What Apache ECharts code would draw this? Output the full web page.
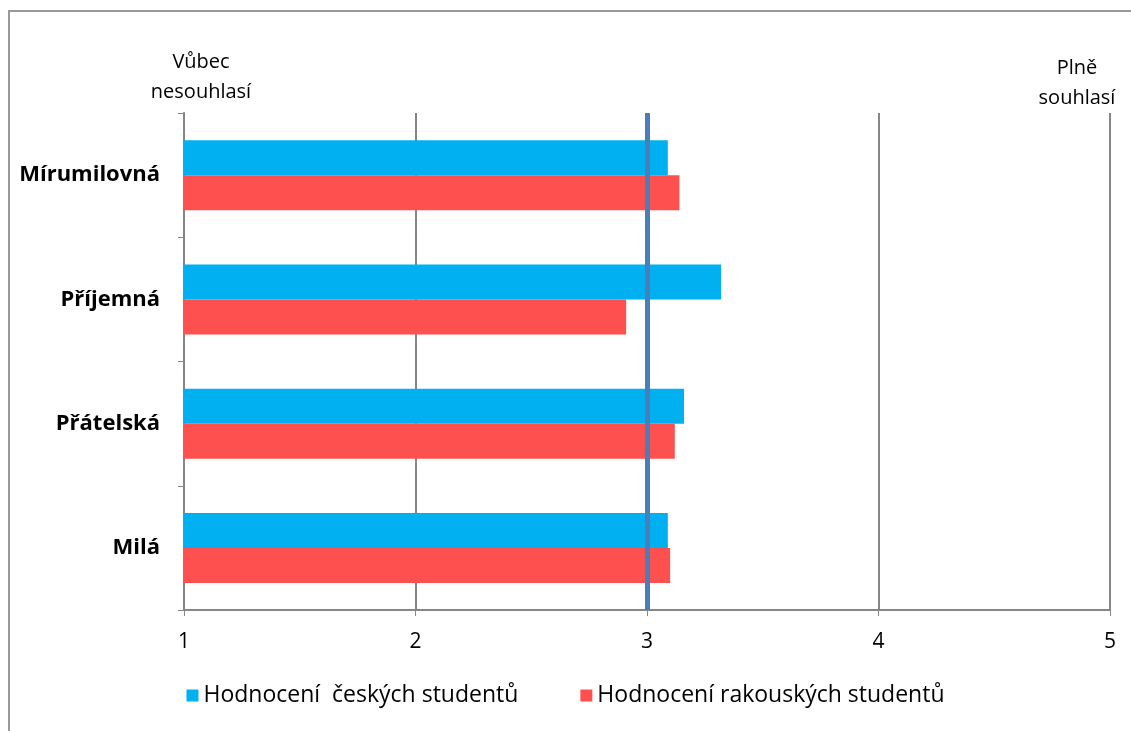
<!DOCTYPE html>
<html>
<head>
<meta charset="utf-8">
<script src="https://cdn.jsdelivr.net/npm/echarts@6/dist/echarts.min.js"></script>
<style>
html,body{margin:0;padding:0;background:#fff;}
#c{width:1131px;height:731px;}
</style>
</head>
<body>
<div id="c"></div>
<script>
const categories = ['Mírumilovná', 'Příjemná', 'Přátelská', 'Milá'];
const czech = [3.09, 3.32, 3.16, 3.09];
const austrian = [3.14, 2.91, 3.12, 3.10];
const seriesNames = ['Hodnocení  českých studentů', 'Hodnocení rakouských studentů'];
const xTicks = [1, 2, 3, 4, 5];
const referenceValue = 3;
const leftNote = 'Vůbec\nnesouhlasí';
const rightNote = 'Plně\nsouhlasí';

const FONT = '"Open Sans", "Noto Sans", sans-serif';
const chart = echarts.init(document.getElementById('c'));
chart.setOption({
  animation: false,
  backgroundColor: '#fff',
  grid: { left: 184, right: 21, top: 113, bottom: 121 },
  legend: {
    data: seriesNames,
    bottom: 19,
    left: 'center',
    itemWidth: 12, itemHeight: 12, itemGap: 62,
    icon: 'rect',
    textStyle: { fontFamily: FONT, fontSize: 23, color: '#000' }
  },
  xAxis: {
    type: 'value', min: xTicks[0], max: xTicks[xTicks.length - 1], interval: 1,
    axisLine: { show: true, lineStyle: { color: '#868686', width: 2 } },
    axisTick: { show: true, length: 6, lineStyle: { color: '#868686' } },
    splitLine: { show: true, lineStyle: { color: '#868686', width: 2 } },
    axisLabel: { fontFamily: FONT, fontSize: 21, color: '#000', margin: 22 }
  },
  yAxis: {
    type: 'category', data: categories, inverse: true,
    axisLine: { show: true, lineStyle: { color: '#868686', width: 2 } },
    axisTick: { show: true, length: 6, alignWithLabel: false, lineStyle: { color: '#868686' } },
    axisLabel: { fontFamily: FONT, fontSize: 22, fontWeight: 'bold', color: '#000', margin: 24 }
  },
  graphic: [
    { type: 'polyline', shape: { points: [[9, 740], [9, 11], [1140, 11]] }, style: { fill: 'none', stroke: '#999', lineWidth: 2 }, silent: true, z: -1 },
    { type: 'text', x: 201, y: 47, style: { text: leftNote, font: '20px ' + FONT, fill: '#000', textAlign: 'center', lineHeight: 30 } },
    { type: 'text', x: 1077, y: 53, style: { text: rightNote, font: '20px ' + FONT, fill: '#000', textAlign: 'center', lineHeight: 30 } }
  ],
  series: [
    {
      name: seriesNames[0], type: 'bar', data: czech, barWidth: 35, barGap: '0%',
      itemStyle: { color: '#00b0f0' },
      markLine: {
        silent: true, symbol: 'none',
        label: { show: false },
        lineStyle: { color: '#4a7ebb', width: 5, type: 'solid' },
        data: [{ xAxis: referenceValue }],
        z: 10
      }
    },
    {
      name: seriesNames[1], type: 'bar', data: austrian, barWidth: 35,
      itemStyle: { color: '#ff5050' }
    }
  ]
});
</script>
</body>
</html>
